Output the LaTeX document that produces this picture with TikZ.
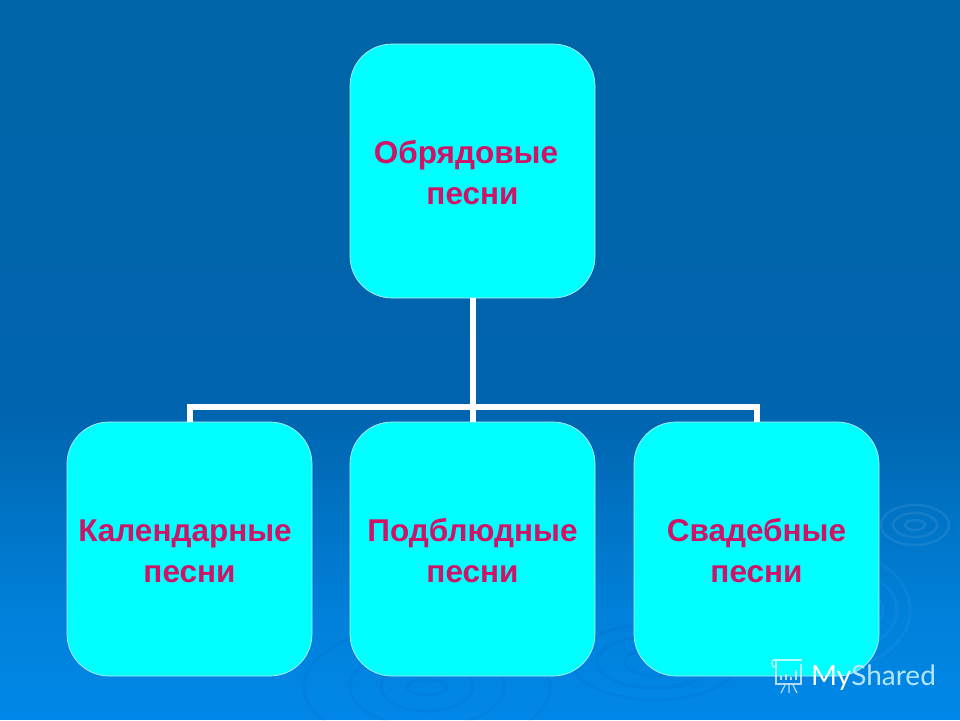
\documentclass[tikz,border=0pt]{standalone}
\usepackage{fontspec}
\setmainfont{Liberation Sans}
\newfontfamily\wmfont{Lato}
\definecolor{boxfill}{HTML}{00FFFF}
\definecolor{labelc}{HTML}{CF1468}
\newcommand{\lbl}[1]{\raisebox{-2pt}[\height][\depth]{#1}}
\tikzset{
  x=1pt,y=-1pt,
  songbox/.style={draw=white!75!cyan,line width=0.7pt,fill=boxfill,rounded corners=42pt,
    minimum width=245pt,minimum height=254pt,inner sep=0pt,align=center,
    text=labelc,font=\fontsize{31.5}{41}\selectfont\bfseries},
  link/.style={draw=white,line width=6pt},
  ringlight/.style={draw=white,opacity=0.08,line width=2.5pt},
  ringfaint/.style={draw=white,opacity=0.04,line width=3pt},
  ringdark/.style={draw=black!60!blue,opacity=0.045,line width=3pt},
  wmark/.style={draw=white,opacity=0.7,line width=1.3pt},
  wmtext/.style={inner sep=0pt,anchor=base west,font=\wmfont\fontsize{28}{28}\selectfont}
}
\begin{document}
\begin{tikzpicture}
\useasboundingbox (0,0) rectangle (960,720);
% background: vertical gradient in strips, each painted down to the bottom edge
\foreach \y in {0,4,...,716}{
  \pgfmathtruncatemacro{\gval}{\y<400 ? 102-3*\y/400 : (\y<500 ? 99+15*(\y-400)/100 : (\y<620 ? 114+16*(\y-500)/120 : 130+6*(\y-620)/100))}
  \pgfmathtruncatemacro{\bval}{\y<400 ? 168+6*\y/400 : (\y<500 ? 174+20*(\y-400)/100 : (\y<620 ? 194+26*(\y-500)/120 : 220+12*(\y-620)/100))}
  \definecolor{stripc}{RGB}{0,\gval,\bval}
  \fill[stripc] (0,\y) rectangle (960,720);
}
% water ripples
\foreach \rx/\ry in {10/5,22/12,34/20}{\draw[ringlight] (915,525) ellipse ({\rx} and {\ry});}
\foreach \rx/\ry in {48/26,62/42,75/58}{\draw[ringfaint] (835,610) ellipse ({\rx} and {\ry});}
\foreach \rx/\ry in {20/8,46/24,77/40,123/62}{\draw[ringdark] (427,687) ellipse ({\rx} and {\ry});}
\foreach \rx/\ry in {30/14,58/26,82/38}{\draw[ringdark] (655,662) ellipse ({\rx} and {\ry});}
% boxes
\node[songbox] (top) at (472.5,171) {\lbl{Обрядовые}\hspace*{13pt}\\\lbl{песни}};
\node[songbox] (cal) at (189.5,549) {\lbl{Календарные}\hspace*{9pt}\\\lbl{песни}};
\node[songbox] (pod) at (472.5,549) {\lbl{Подблюдные}\\\lbl{песни}};
\node[songbox] (wed) at (756.5,549) {\lbl{Свадебные}\\\lbl{песни}};
% connectors
\coordinate (bar) at (473,407);
\draw[link] (top.south) -- (pod.north);
\draw[link,line cap=butt] (cal.north) |- (bar) -| (wed.north);
% watermark
\draw[wmark] (773,660) -- (802,660) (776,660) -- (776,684) -- (801,684) -- (801,664);
\draw[wmark] (773,660) .. controls (770,664) and (773,668) .. (776,667);
\draw[wmark,line width=2pt] (781,680) -- (781,676) (786,680) -- (786,674) (791,680) -- (791,677) (796,680) -- (796,670);
\draw[wmark] (785,685) -- (781,693) (789,685) -- (789,693) (793,685) -- (797,693);
\node[wmtext] (wm) at (811,685) {\textcolor{white}{My}\textcolor{white!70!cyan}{Shared}};
\end{tikzpicture}
\end{document}
